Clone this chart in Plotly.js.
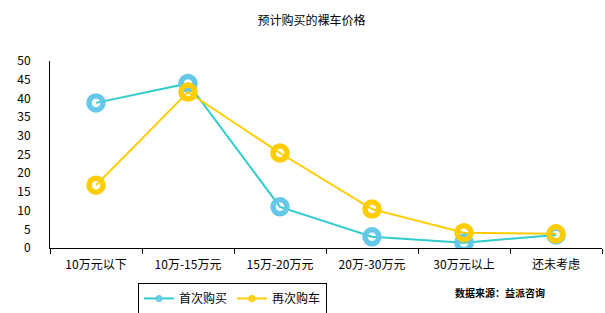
<!DOCTYPE html>
<html><head><meta charset="utf-8">
<script src="https://cdn.plot.ly/plotly-3.0.1.min.js"></script>
<style>body{margin:0;background:#fff}#c{width:605px;height:313px}</style>
</head><body><div id="c"></div>
<script>
const categories = ['10万元以下','10万-15万元','15万-20万元','20万-30万元','30万元以上','还未考虑'];
const firstBuy = [38.8, 44.0, 11.0, 3.0, 1.4, 3.5];
const rebuy = [16.8, 41.7, 25.4, 10.4, 4.1, 3.8];
const seriesNames = ['首次购买','再次购车'];
const yTicks = [0,5,10,15,20,25,30,35,40,45,50];

const font = '"Noto Sans CJK SC", "DejaVu Sans", sans-serif';
const traces = [
  {x: categories, y: firstBuy, type:'scatter', mode:'lines+markers', showlegend:false,
   line:{color:'#33CCCC', width:2},
   marker:{symbol:'circle-open', size:14, color:'#66C8E8', line:{width:5.5, color:'#66C8E8'}}},
  {x: categories, y: rebuy, type:'scatter', mode:'lines+markers', showlegend:false,
   line:{color:'#FFCC00', width:2},
   marker:{symbol:'circle-open', size:14, color:'#FFCC00', line:{width:5.5, color:'#FFCC00'}}},
  {x:[null], y:[null], type:'scatter', mode:'lines+markers', name: seriesNames[0],
   line:{color:'#33CCCC', width:2}, marker:{symbol:'circle-open', size:5, color:'#66C8E8', line:{width:2}}},
  {x:[null], y:[null], type:'scatter', mode:'lines+markers', name: seriesNames[1],
   line:{color:'#FFCC00', width:2}, marker:{symbol:'circle-open', size:5, color:'#FFCC00', line:{width:2}}}
];
const layout = {
  width:605, height:313,
  margin:{l:50, r:3, t:61, b:65},
  paper_bgcolor:'#fff', plot_bgcolor:'#fff',
  font:{family:font, size:12, color:'#000'},
  title:{text:'预计购买的裸车价格', x:0.515, xanchor:'center', y:0.935, yanchor:'middle', font:{size:12, family:font}},
  xaxis:{type:'category', range:[-0.5, 5.5], automargin:false, showline:true, linecolor:'#000', linewidth:1, ticks:'outside', tickson:'boundaries',
         ticklen:5, tickcolor:'#000', showgrid:false, zeroline:false, tickfont:{size:12}, ticklabelstandoff:6},
  yaxis:{range:[0,50], automargin:false, tickvals:yTicks, showline:true, linecolor:'#000', linewidth:1, ticks:'',
         showgrid:false, zeroline:false, tickfont:{size:12}, ticklabelstandoff:16},
  showlegend:true,
  legend:{orientation:'h', xref:'container', yref:'container', x:0.228, xanchor:'left', y:0.096, yanchor:'top',
          bordercolor:'#000', borderwidth:1, font:{size:12}, tracegroupgap:0},
  annotations:[{text:'<b>数据来源：益派咨询</b>', xref:'paper', yref:'paper', x:0.73, xanchor:'left', y:-0.24, yanchor:'middle',
                showarrow:false, font:{size:10}}]
};
Plotly.newPlot('c', traces, layout, {displayModeBar:false, staticPlot:true});
</script></body></html>
